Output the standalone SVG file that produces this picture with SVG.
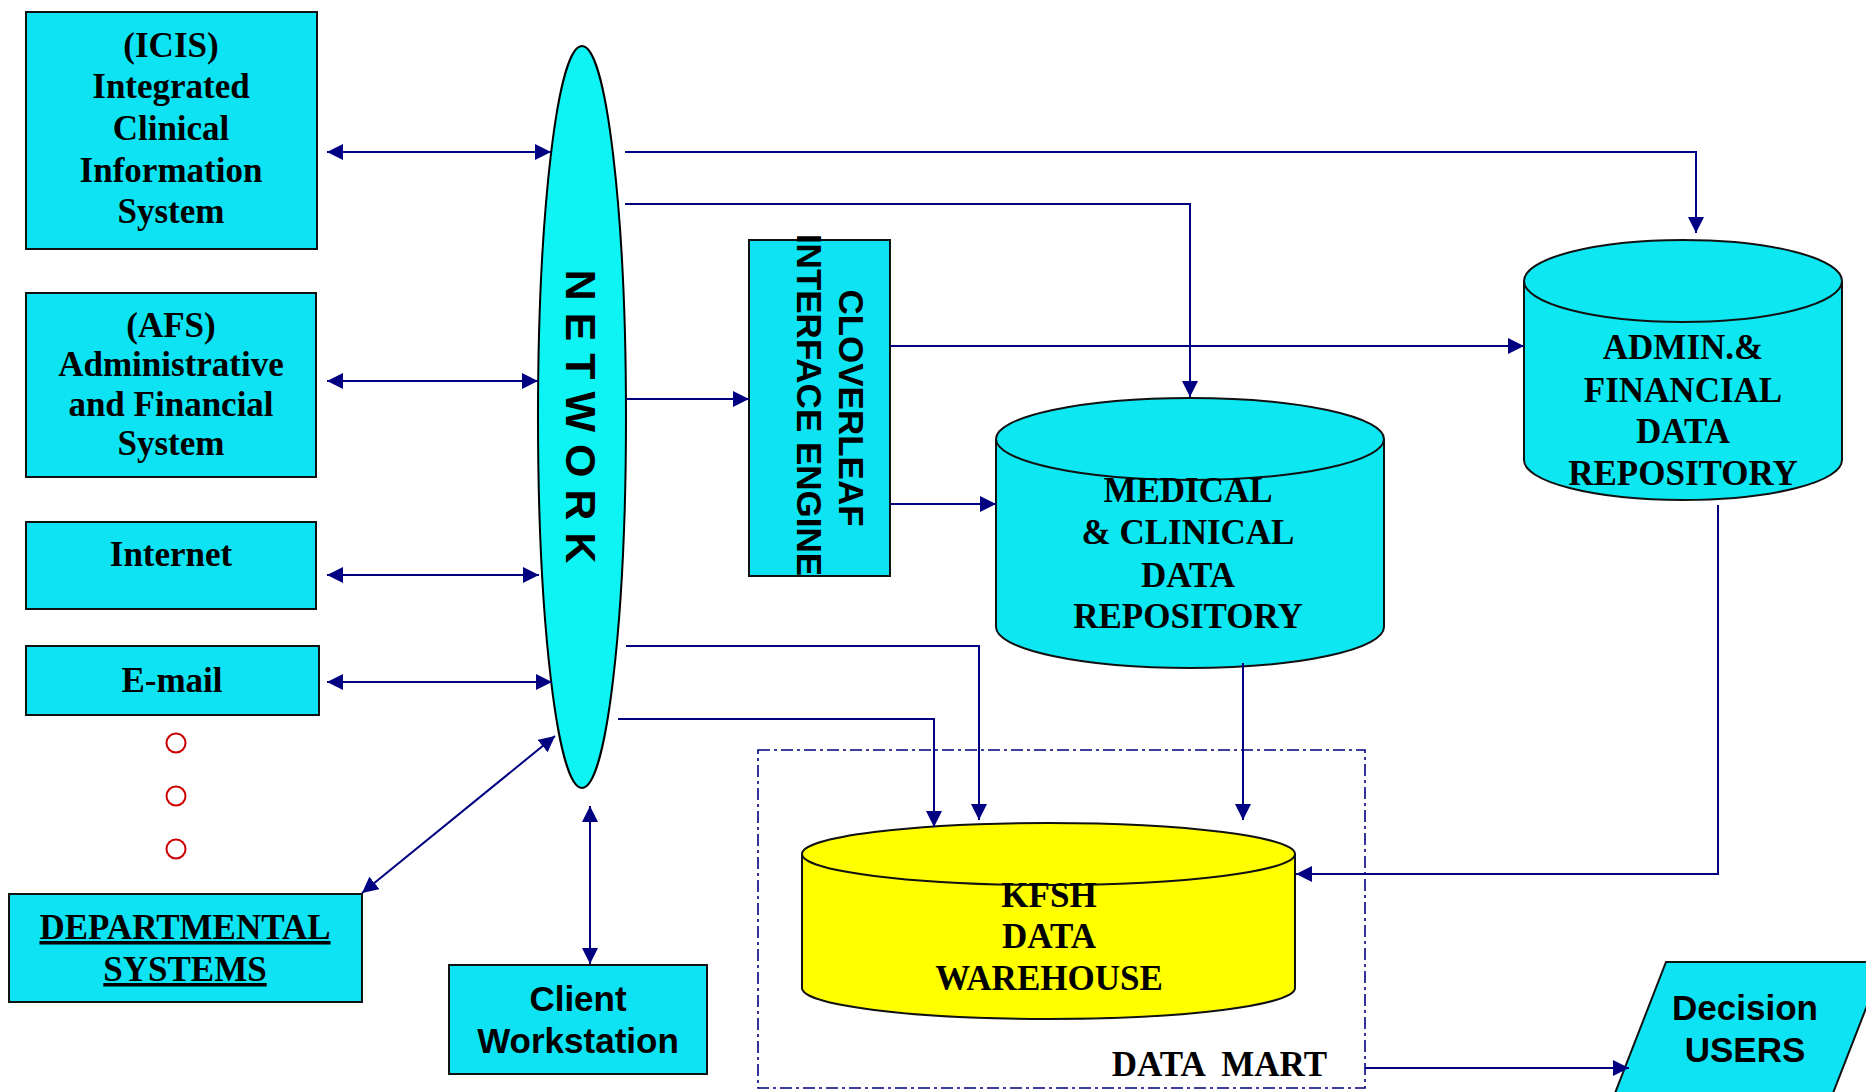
<svg xmlns="http://www.w3.org/2000/svg" width="1866" height="1092" viewBox="0 0 1866 1092">
<style>
.box{fill:#0DE3F2;stroke:#111;stroke-width:2}
.cyl{stroke:#111;stroke-width:2}
.cy{fill:#0DE7F2}
.yl{fill:#FFFF00}
.serif{font-family:"Liberation Serif","Times New Roman",serif;font-weight:bold;font-size:35px;fill:#000;text-anchor:middle}
.sans{font-family:"Liberation Sans",Arial,sans-serif;font-weight:bold;font-size:35px;fill:#000;text-anchor:middle}
.conn{fill:none;stroke:#000080;stroke-width:2}
.dot{fill:none;stroke:#CC0000;stroke-width:2}
</style>
<defs>
<marker id="ah" markerUnits="userSpaceOnUse" markerWidth="16" markerHeight="16" refX="16" refY="8" orient="auto-start-reverse" viewBox="0 0 16 16">
<path d="M0,0 L16,8 L0,16 Z" fill="#000080"/>
</marker>
</defs>
<rect width="1866" height="1092" fill="#fff"/>

<g id="datamart">
<rect x="758" y="750" width="607" height="338" fill="none" stroke="#000080" stroke-width="1.6" stroke-dasharray="12 4 3 4"/>
<text class="serif" x="1327" y="1076" style="text-anchor:end;white-space:pre">DATA  MART</text>
</g>

<g id="icis">
<rect class="box" x="26" y="12" width="291" height="237"/>
<text class="serif" x="171" y="57">(ICIS)</text>
<text class="serif" x="171" y="98">Integrated</text>
<text class="serif" x="171" y="140">Clinical</text>
<text class="serif" x="171" y="182">Information</text>
<text class="serif" x="171" y="223">System</text>
</g>

<g id="afs">
<rect class="box" x="26" y="293" width="290" height="184"/>
<text class="serif" x="171" y="337">(AFS)</text>
<text class="serif" x="171" y="376">Administrative</text>
<text class="serif" x="171" y="416">and Financial</text>
<text class="serif" x="171" y="455">System</text>
</g>

<g id="internet">
<rect class="box" x="26" y="522" width="290" height="87"/>
<text class="serif" x="171" y="566">Internet</text>
</g>

<g id="email">
<rect class="box" x="26" y="646" width="293" height="69"/>
<text class="serif" x="172" y="692">E-mail</text>
</g>

<g id="more">
<circle class="dot" cx="176" cy="743" r="9.5"/>
<circle class="dot" cx="176" cy="796" r="9.5"/>
<circle class="dot" cx="176" cy="849" r="9.5"/>
</g>

<g id="departmental">
<rect class="box" x="9" y="894" width="353" height="108"/>
<text class="serif" x="185" y="939" text-decoration="underline">DEPARTMENTAL</text>
<text class="serif" x="185" y="981" text-decoration="underline">SYSTEMS</text>
</g>

<g id="client">
<rect class="box" x="449" y="965" width="258" height="109"/>
<text class="sans" x="578" y="1011">Client</text>
<text class="sans" x="578" y="1053">Workstation</text>
</g>

<g id="network">
<ellipse cx="582" cy="417" rx="44" ry="371" fill="#0EF4F4" stroke="#000" stroke-width="2"/>
<text class="sans" transform="translate(566,416.5) rotate(90)" style="font-size:43px">N E T W O R K</text>
</g>

<g id="cloverleaf">
<rect class="box" x="749" y="240" width="141" height="336"/>
<text class="sans" transform="translate(839,408) rotate(90)">CLOVERLEAF</text>
<text class="sans" transform="translate(797,405) rotate(90)">INTERFACE ENGINE</text>
</g>

<g id="medical">
<path class="cyl cy" d="M996,439 A194,41 0 0 1 1384,439 V627 A194,41 0 0 1 996,627 Z"/>
<path class="cyl" fill="none" d="M996,439 A194,41 0 0 0 1384,439"/>
<text class="serif" x="1188" y="502">MEDICAL</text>
<text class="serif" x="1188" y="544">&amp; CLINICAL</text>
<text class="serif" x="1188" y="587">DATA</text>
<text class="serif" x="1188" y="628">REPOSITORY</text>
</g>

<g id="admin">
<path class="cyl cy" d="M1524,281 A159,41 0 0 1 1842,281 V460 A159,40 0 0 1 1524,460 Z"/>
<path class="cyl" fill="none" d="M1524,281 A159,41 0 0 0 1842,281"/>
<text class="serif" x="1683" y="359">ADMIN.&amp;</text>
<text class="serif" x="1683" y="402">FINANCIAL</text>
<text class="serif" x="1683" y="443">DATA</text>
<text class="serif" x="1683" y="485">REPOSITORY</text>
</g>

<g id="kfsh">
<path class="cyl yl" d="M802,854 A246.5,31 0 0 1 1295,854 V988 A246.5,31 0 0 1 802,988 Z"/>
<path class="cyl" fill="none" d="M802,854 A246.5,31 0 0 0 1295,854"/>
<text class="serif" x="1049" y="907">KFSH</text>
<text class="serif" x="1049" y="948">DATA</text>
<text class="serif" x="1049" y="990">WAREHOUSE</text>
</g>

<g id="decision">
<polygon class="box" points="1666,962 1884,962 1828,1106 1610,1106"/>
<text class="sans" x="1745" y="1020">Decision</text>
<text class="sans" x="1745" y="1062">USERS</text>
</g>

<g id="connectors">
<path class="conn" d="M327,152 H551" marker-start="url(#ah)" marker-end="url(#ah)"/>
<path class="conn" d="M327,381 H538" marker-start="url(#ah)" marker-end="url(#ah)"/>
<path class="conn" d="M327,575 H539" marker-start="url(#ah)" marker-end="url(#ah)"/>
<path class="conn" d="M327,682 H552" marker-start="url(#ah)" marker-end="url(#ah)"/>
<path class="conn" d="M362,893 L555,736" marker-start="url(#ah)" marker-end="url(#ah)"/>
<path class="conn" d="M590,806 V964" marker-start="url(#ah)" marker-end="url(#ah)"/>
<path class="conn" d="M625,152 H1696 V233" marker-end="url(#ah)"/>
<path class="conn" d="M625,204 H1190 V397" marker-end="url(#ah)"/>
<path class="conn" d="M626,399 H749" marker-end="url(#ah)"/>
<path class="conn" d="M890,346 H1524" marker-end="url(#ah)"/>
<path class="conn" d="M890,504 H996" marker-end="url(#ah)"/>
<path class="conn" d="M626,646 H979 V820" marker-end="url(#ah)"/>
<path class="conn" d="M618,719 H934 V827" marker-end="url(#ah)"/>
<path class="conn" d="M1243,663 V820" marker-end="url(#ah)"/>
<path class="conn" d="M1718,505 V874 H1296" marker-end="url(#ah)"/>
<path class="conn" d="M1365,1068 H1629" marker-end="url(#ah)"/>
</g>
</svg>
